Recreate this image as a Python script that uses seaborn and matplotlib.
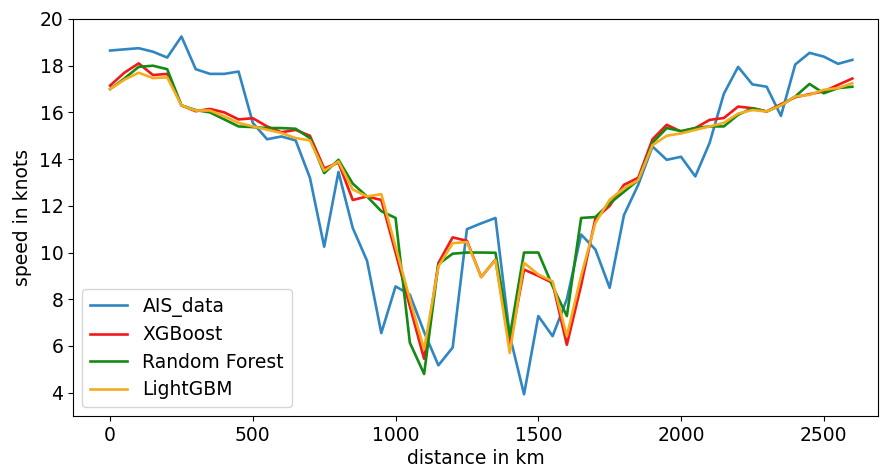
import matplotlib
matplotlib.use("Agg")
import matplotlib.pyplot as plt
import seaborn as sns
import pandas as pd

# distance along the route (km), sampled every 50 km
distance = list(range(0, 2650, 50))

ais_data = [18.65, 18.7, 18.75, 18.6, 18.35, 19.25, 17.85, 17.65, 17.65, 17.75,
            15.55, 14.85, 14.97, 14.8, 13.2, 10.25, 13.45, 11.05, 9.65, 6.55,
            8.55, 8.2, 6.6, 5.17, 5.93, 11.0, 11.25, 11.48, 6.45, 3.93,
            7.28, 6.42, 8.0, 10.77, 10.13, 8.49, 11.6, 12.9, 14.54, 13.97,
            14.1, 13.26, 14.69, 16.8, 17.95, 17.2, 17.1, 15.85, 18.05, 18.55,
            18.39, 18.08, 18.25]

xgboost = [17.15, 17.7, 18.1, 17.6, 17.65, 16.3, 16.05, 16.15, 16.0, 15.7,
           15.75, 15.4, 15.15, 15.25, 15.0, 13.6, 13.85, 12.25, 12.4, 12.25,
           10.0, 7.7, 5.45, 9.55, 10.65, 10.5, 8.95, 9.7, 6.0, 9.27,
           9.0, 8.7, 6.05, 8.6, 11.45, 12.0, 12.9, 13.2, 14.85, 15.47,
           15.18, 15.33, 15.68, 15.76, 16.25, 16.18, 16.04, 16.35, 16.65, 16.78,
           16.9, 17.18, 17.45]

random_forest = [17.0, 17.45, 17.95, 18.0, 17.85, 16.3, 16.1, 16.0, 15.7, 15.4,
                 15.37, 15.33, 15.33, 15.3, 14.9, 13.4, 13.97, 12.95, 12.4, 11.77,
                 11.48, 6.14, 4.8, 9.5, 9.95, 10.0, 10.0, 9.99, 6.4, 10.0,
                 10.0, 8.56, 7.28, 11.48, 11.52, 12.1, 12.6, 13.1, 14.7, 15.33,
                 15.2, 15.33, 15.4, 15.4, 15.9, 16.18, 16.04, 16.3, 16.68, 17.22,
                 16.82, 17.04, 17.1]

lightgbm = [17.0, 17.4, 17.7, 17.47, 17.5, 16.3, 16.08, 16.08, 15.83, 15.55,
            15.4, 15.26, 15.12, 14.9, 14.8, 13.5, 13.9, 12.7, 12.4, 12.5,
            10.25, 8.0, 5.85, 9.4, 10.4, 10.45, 8.95, 9.68, 5.7, 9.56,
            9.06, 8.77, 6.42, 9.0, 11.27, 12.26, 12.75, 13.1, 14.6, 15.0,
            15.1, 15.25, 15.4, 15.55, 15.95, 16.1, 16.04, 16.3, 16.68, 16.75,
            16.97, 17.04, 17.25]

series_names = ["AIS_data", "XGBoost", "Random Forest", "LightGBM"]
series_values = [ais_data, xgboost, random_forest, lightgbm]
series_colors = ["#2f86c2", "#f21818", "#138a13", "#f5ac1e"]

plt.rcParams["font.family"] = ["DejaVu Sans"]
plt.rcParams["font.size"] = 13.5

fig = plt.figure(figsize=(8.81, 4.70), dpi=100)
ax = fig.add_axes([73 / 881, 1 - 416 / 470, (878 - 73) / 881, (416 - 19) / 470])

for name, vals, col in zip(series_names, series_values, series_colors):
    df = pd.DataFrame({"distance": distance, "speed": vals})
    sns.lineplot(data=df, x="distance", y="speed", ax=ax, color=col,
                 label=name, linewidth=1.9, estimator=None)

ax.set_xlim(-130, 2690)
ax.set_ylim(3.0, 20.0)
ax.set_xticks([0, 500, 1000, 1500, 2000, 2500])
ax.set_yticks([4, 6, 8, 10, 12, 14, 16, 18, 20])
ax.set_xlabel("distance in km", fontsize=13.5, labelpad=3)
ax.set_ylabel("speed in knots", fontsize=13.5, labelpad=5)
ax.tick_params(labelsize=13.5)
ax.legend(loc="lower left", fontsize=13.5, labelspacing=0.45)

fig.savefig("out.png", dpi=100)
